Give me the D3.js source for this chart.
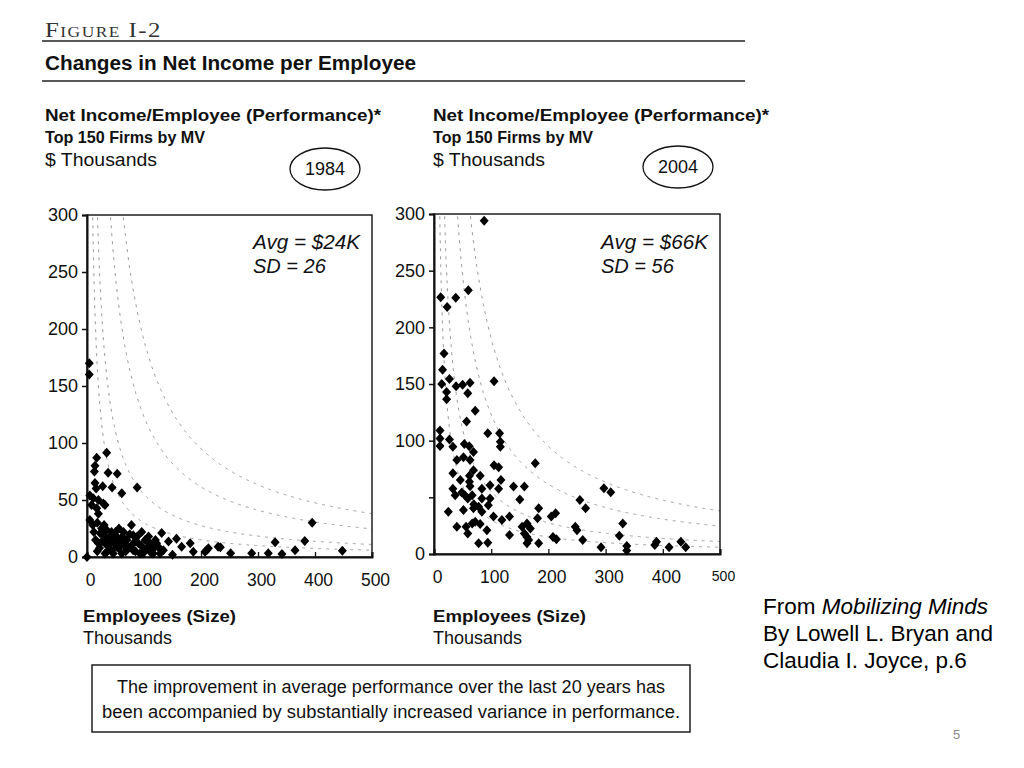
<!DOCTYPE html>
<html><head><meta charset="utf-8">
<script src="https://cdn.jsdelivr.net/npm/d3@7"></script>
<style>body{margin:0;background:#fff}svg{display:block}</style>
</head><body>
<svg id="c" width="1024" height="768"></svg>
<script>
// ---- data ----
const xTicks = [0, 100, 200, 300, 400, 500];
const yTicks = [0, 50, 100, 150, 200, 250, 300];
const yLabels1984 = ["0", "50", "100", "150", "200", "250", "300"];
const yLabels2004 = ["0", "", "100", "150", "200", "250", "300"];
const isoIncome = [3000, 5500, 12300, 19000]; // employees(K) x income/employee($K) guide curves

const emp1984 = [0,4,4,17,34.5,14,13,37,53,14,27.5,44,16,61,88,5,11,20,28.6,8,17,20,31.6,5,10,25.8,34.5,43,23,31.6,40,52,64,78,81,96,70,90,102,105,113.5,125,134,131,143,157,166,181,186.5,210,230,26,34.5,43,52,61,72.5,81,93,46,31.6,58,128,116,150,207,213,234,252,289,318,330,342,365,382,395,448,20,38,48,65,85,100,110,56,68,120,18,12,15,22,28,36,40,45,50,55,62,66,75,78,85,88,95,98,108,112,118,122,30,18];
const inc1984 = [0,170,160,87,91.5,80,75,74,73,65,62,61,60,56,61,54,51.5,50,47,45.6,42.7,38,45.6,32.5,28,25,23.7,22,20.8,17.8,17.8,17.8,22,28,19,22,15,12,15,7.6,9,9,6,21,13.5,16,9,12,4.7,6,9,13.5,10.5,6,9,3,7.6,6,3,3,3,13.5,3,3,2,4.7,7.6,8.5,3.2,3.2,3.2,13,2.6,6,14,30,5.5,12,15,12,10,14,5,12,25,5,15,5,22,15,8,20,5,12,17,22,8,18,12,20,10,5,18,10,3,18,4,8,12,28,30];

const emp2004 = [87.7,60,11.7,38,23,17.5,15,27,13.5,38.6,50,63,105,22,22,59,72,57,10.5,10.5,10.5,27,33,53,61.6,94,114.6,116,116,40,51.5,63,69,105,113,177,33,46,62,62,63,69,80.7,83.7,98,117,113,139,158,33,37,48.6,54,59,66.7,69.6,83.7,98,150,25,51.5,69,78,83.7,95,104,118.7,132,40,56,59,66.7,72,80.7,92.5,78,94,132,154,162.6,168.4,158,162.6,162.6,165.5,183,181,205,212.6,208,214,247,183,297,309,255,265,250,260,330,324,292,337,337,389,386,411,431.6,440];
const inc2004 = [294,232.7,226.5,226,218,177,162.6,154.4,150,148,149.4,151,152.4,143,136.5,141.8,126.5,117,109,102,95.3,101,94.7,97,95,106.5,106.5,99,94.7,82.9,85.3,82.9,90,78.4,76.5,80,71.2,65.3,69,63.8,59.7,74,69,57.6,60.6,65.3,57.6,59.6,59.6,57.6,51.8,54.2,51.8,49,51.8,44,49,49,48,37.3,38.8,40.3,41.8,37.3,43,33,30,33,24,24,18,27,28.5,26.5,21,9.4,10,16.8,24,27,22.6,18,15,9.4,12.4,40.3,31.5,33,36,15,13,24,9.4,58,54.4,47.6,40.3,21,12.4,27,16,5.9,7,3,10.9,8,5.9,10.9,5.9];

const panels = [
  {year: "1984", emp: emp1984, inc: inc1984, yLabels: yLabels1984, avg: "Avg = $24K", sd: "SD = 26",
   x0: 87, x1: 372, y0: 557, y1: 215, tx: 45, ax: 83, ex: 325, ey: 169},
  {year: "2004", emp: emp2004, inc: inc2004, yLabels: yLabels2004, avg: "Avg = $66K", sd: "SD = 56",
   x0: 434, x1: 720, y0: 554, y1: 214, tx: 433, ax: 433, ex: 678, ey: 167}
];

const svg = d3.select("#c");
const sans = "'Liberation Sans', Arial, sans-serif";
const ink = "#111";

// header
svg.append("text").attr("x", 45).attr("y", 37).attr("font-family", "'Liberation Serif', serif")
  .attr("font-size", 20).attr("font-variant", "small-caps").attr("letter-spacing", 1.2).attr("fill", "#333")
  .attr("textLength", 117).attr("lengthAdjust", "spacingAndGlyphs").text("Figure I-2");
svg.append("line").attr("x1", 42).attr("x2", 745).attr("y1", 41).attr("y2", 41).attr("stroke", "#222").attr("stroke-width", 1.4);
svg.append("text").attr("x", 45).attr("y", 70).attr("font-family", sans).attr("font-weight", "bold")
  .attr("font-size", 19.5).attr("fill", ink).attr("textLength", 371).attr("lengthAdjust", "spacingAndGlyphs")
  .text("Changes in Net Income per Employee");
svg.append("line").attr("x1", 42).attr("x2", 745).attr("y1", 81).attr("y2", 81).attr("stroke", "#222").attr("stroke-width", 1.4);

const diamond = "M0,-5L4.5,0L0,5L-4.5,0Z";

panels.forEach(p => {
  const g = svg.append("g");
  // subtitles
  g.append("text").attr("x", p.tx).attr("y", 121).attr("font-family", sans).attr("font-weight", "bold")
    .attr("font-size", 16.5).attr("fill", ink).attr("textLength", 336).attr("lengthAdjust", "spacingAndGlyphs")
    .text("Net Income/Employee (Performance)*");
  g.append("text").attr("x", p.tx).attr("y", 143).attr("font-family", sans).attr("font-weight", "bold")
    .attr("font-size", 16.5).attr("fill", ink).attr("textLength", 160).attr("lengthAdjust", "spacingAndGlyphs")
    .text("Top 150 Firms by MV");
  g.append("text").attr("x", p.tx).attr("y", 166).attr("font-family", sans)
    .attr("font-size", 17.5).attr("fill", ink).attr("textLength", 112).attr("lengthAdjust", "spacingAndGlyphs")
    .text("$ Thousands");
  g.append("ellipse").attr("cx", p.ex).attr("cy", p.ey).attr("rx", 35).attr("ry", 21)
    .attr("fill", "none").attr("stroke", ink).attr("stroke-width", 1.3);
  g.append("text").attr("x", p.ex).attr("y", p.ey + 6).attr("text-anchor", "middle").attr("font-family", sans)
    .attr("font-size", 18).attr("fill", ink).text(p.year);

  const x = d3.scaleLinear().domain([0, 500]).range([p.x0, p.x1]);
  const y = d3.scaleLinear().domain([0, 300]).range([p.y0, p.y1]);

  // clip
  const cid = "clip" + p.year;
  svg.append("clipPath").attr("id", cid).append("rect")
    .attr("x", p.x0).attr("y", p.y1).attr("width", p.x1 - p.x0).attr("height", p.y0 - p.y1);

  // guide hyperbolas
  const line = d3.line().x(d => x(d[0])).y(d => y(d[1]));
  isoIncome.forEach(k => {
    const xs = d3.range(k / 305, 500.5, 1);
    g.append("path").attr("clip-path", `url(#${cid})`)
      .attr("d", line(xs.map(v => [v, k / v])))
      .attr("fill", "none").attr("stroke", "#9a9a9a").attr("stroke-width", 1)
      .attr("stroke-dasharray", "3,5");
  });

  // frame
  g.append("rect").attr("x", p.x0).attr("y", p.y1).attr("width", p.x1 - p.x0).attr("height", p.y0 - p.y1)
    .attr("fill", "none").attr("stroke", ink).attr("stroke-width", 1.4);

  // axes
  const yAxis = d3.axisLeft(y).tickValues(yTicks).tickSize(5).tickFormat((d, i) => p.yLabels[i]);
  const ya = g.append("g").attr("transform", `translate(${p.x0},0)`).call(yAxis);
  ya.select(".domain").attr("stroke", ink).attr("stroke-width", 2);
  ya.selectAll(".tick line").attr("stroke", ink).attr("stroke-width", 1.5);
  ya.selectAll("text").attr("font-family", sans).attr("font-size", 18).attr("fill", ink).attr("dx", -1);

  const xAxis = d3.axisBottom(x).tickValues(xTicks).tickSize(-5).tickPadding(17);
  const xa = g.append("g").attr("transform", `translate(0,${p.y0})`).call(xAxis);
  xa.select(".domain").attr("stroke", ink).attr("stroke-width", 2);
  xa.selectAll(".tick line").attr("stroke", ink).attr("stroke-width", 1.3);
  xa.selectAll("text").attr("font-family", sans).attr("font-size", (d) => (p.year === "2004" && d === 500) ? 14 : 17.5)
    .attr("fill", ink).attr("dx", 3);

  // points
  g.append("g").selectAll("path").data(p.emp.map((e, i) => [e, p.inc[i]])).join("path")
    .attr("d", diamond).attr("transform", d => `translate(${x(d[0])},${y(d[1])})`).attr("fill", "#000");

  // stats
  g.append("text").attr("x", p.x1 - 119).attr("y", 249).attr("font-family", sans).attr("font-style", "italic")
    .attr("font-size", 20).attr("fill", ink).attr("textLength", 107).attr("lengthAdjust", "spacingAndGlyphs").text(p.avg);
  g.append("text").attr("x", p.x1 - 119).attr("y", 273).attr("font-family", sans).attr("font-style", "italic")
    .attr("font-size", 20).attr("fill", ink).text(p.sd);

  // x axis titles
  g.append("text").attr("x", p.ax).attr("y", 622).attr("font-family", sans).attr("font-weight", "bold")
    .attr("font-size", 17).attr("fill", ink).attr("textLength", 153).attr("lengthAdjust", "spacingAndGlyphs")
    .text("Employees (Size)");
  g.append("text").attr("x", p.ax).attr("y", 644).attr("font-family", sans)
    .attr("font-size", 17.5).attr("fill", ink).attr("textLength", 89).attr("lengthAdjust", "spacingAndGlyphs")
    .text("Thousands");
});

// conclusion box
svg.append("rect").attr("x", 92).attr("y", 665).attr("width", 598).attr("height", 67)
  .attr("fill", "none").attr("stroke", ink).attr("stroke-width", 1.4);
svg.append("text").attr("x", 391).attr("y", 693).attr("text-anchor", "middle").attr("font-family", sans)
  .attr("font-size", 17.5).attr("fill", ink).attr("textLength", 548).attr("lengthAdjust", "spacingAndGlyphs")
  .text("The improvement in average performance over the last 20 years has");
svg.append("text").attr("x", 391).attr("y", 718).attr("text-anchor", "middle").attr("font-family", sans)
  .attr("font-size", 17.5).attr("fill", ink).attr("textLength", 578).attr("lengthAdjust", "spacingAndGlyphs")
  .text("been accompanied by substantially increased variance in performance.");

// source note
const src = svg.append("text").attr("font-family", sans).attr("font-size", 22.5).attr("fill", "#000");
const t1 = src.append("tspan").attr("x", 763).attr("y", 614);
t1.append("tspan").text("From ");
t1.append("tspan").attr("font-style", "italic").text("Mobilizing Minds");
src.append("tspan").attr("x", 763).attr("y", 641).text("By Lowell L. Bryan and");
src.append("tspan").attr("x", 763).attr("y", 668).text("Claudia I. Joyce, p.6");
svg.append("text").attr("x", 953).attr("y", 739).attr("font-family", sans).attr("font-size", 13)
  .attr("fill", "#888").text("5");
</script>
</body></html>
